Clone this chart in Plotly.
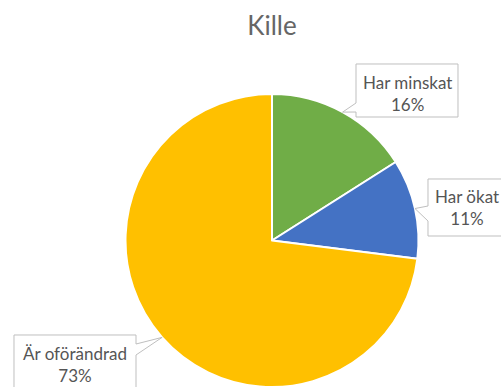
import math
import plotly.graph_objects as go

# Slice data
labels = ["Har minskat", "Har ökat", "Är oförändrad"]
values = [16, 11, 73]
colors = ["#70AD47", "#4472C4", "#FFC000"]
title_text = "Kille"

W, H = 501, 387

# Pie placement in pixels (centre and radius)
CX, R = 272.0, 146.5
CY = H - R


def px(x):
    return x / W


def py(y):
    return 1 - y / H


# Callout boxes: (left, top, right, bottom), side of pointer, pointer base (y1, y2), text centre
callouts = [
    dict(box=(356, 64, 458, 117), side="left", base=(103, 112), text_xy=(407, 93.5)),
    dict(box=(428, 179, 506, 236), side="left", base=(206, 221), text_xy=(467, 207.5)),
    dict(box=(14, 335, 136, 392), side="right", base=(344, 355), text_xy=(75, 364)),
]

fig = go.Figure(
    go.Pie(
        labels=labels,
        values=values,
        sort=False,
        direction="clockwise",
        rotation=0,
        marker=dict(colors=colors, line=dict(color="white", width=2)),
        textinfo="none",
        hoverinfo="label+percent",
        showlegend=False,
        domain=dict(x=[px(CX - R), px(CX + R)], y=[0, 2 * R / H]),
    )
)

total = sum(values)
shapes = []
annotations = []
cum = 0.0
for lab, val, co in zip(labels, values, callouts):
    mid = (cum + val / 2) / total * 2 * math.pi
    cum += val
    tx = CX + R * math.sin(mid)
    ty = CY - R * math.cos(mid)
    x0, y0, x1, y1 = co["box"]
    b1, b2 = co["base"]
    if co["side"] == "left":
        pts = [(x0, y0), (x1, y0), (x1, y1), (x0, y1), (x0, b2), (tx, ty), (x0, b1)]
    else:
        pts = [(x0, y0), (x1, y0), (x1, b1), (tx, ty), (x1, b2), (x1, y1), (x0, y1)]
    path = "M " + " L ".join(f"{px(a):.5f},{py(b):.5f}" for a, b in pts) + " Z"
    shapes.append(
        dict(
            type="path",
            path=path,
            xref="paper",
            yref="paper",
            fillcolor="white",
            line=dict(color="#BFBFBF", width=1),
            layer="above",
        )
    )
    pct = round(val / total * 100)
    annotations.append(
        dict(
            x=px(co["text_xy"][0]),
            y=py(co["text_xy"][1]),
            xref="paper",
            yref="paper",
            text=f"{lab}<br>{pct}%",
            showarrow=False,
            xanchor="center",
            yanchor="middle",
            align="center",
            font=dict(family="Lato", size=17, color="#555555"),
        )
    )

fig.update_layout(
    width=W,
    height=H,
    margin=dict(l=0, r=0, t=0, b=0),
    paper_bgcolor="white",
    plot_bgcolor="white",
    title=dict(
        text=title_text,
        x=px(272),
        xanchor="center",
        y=py(26),
        yanchor="middle",
        yref="container",
        font=dict(family="Lato", size=26, color="#666666"),
    ),
    shapes=shapes,
    annotations=annotations,
)

fig.write_html("out.html")
